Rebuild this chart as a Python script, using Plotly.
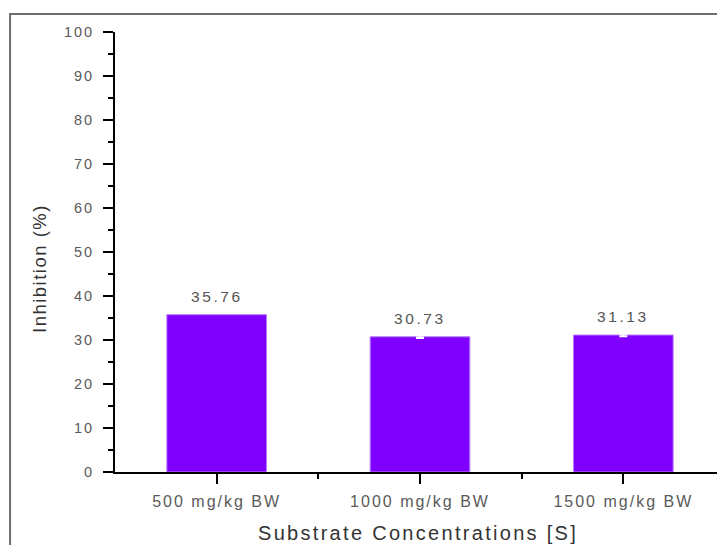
import plotly.graph_objects as go

categories = ["500 mg/kg BW", "1000 mg/kg BW", "1500 mg/kg BW"]
inhibition = [35.76, 30.73, 31.13]
errors = [None, 0.3, 0.3]
y_ticks = [0, 10, 20, 30, 40, 50, 60, 70, 80, 90, 100]

FONT = "Liberation Sans, Arial, sans-serif"
BAR = "#8000ff"


def spaced(s, ls):
    return f"<span style='letter-spacing:{ls}px'>{s}</span>"


xpos = list(range(len(categories)))

fig = go.Figure()
fig.add_trace(go.Bar(
    x=xpos, y=inhibition, width=0.49,
    marker=dict(color=BAR, line=dict(color="#b57bff", width=1)),
    showlegend=False, hoverinfo="skip",
))

# error bars only where an error value exists
ex = [xpos[i] for i in range(len(xpos)) if errors[i] is not None]
ey = [inhibition[i] for i in range(len(xpos)) if errors[i] is not None]
ee = [errors[i] for i in range(len(xpos)) if errors[i] is not None]
fig.add_trace(go.Scatter(
    x=ex, y=ey, mode="markers", marker=dict(size=1, opacity=0),
    error_y=dict(type="data", array=ee, visible=True, color="white",
                 thickness=2, width=4),
    showlegend=False, hoverinfo="skip",
))

for i, v in enumerate(inhibition):
    fig.add_annotation(x=xpos[i], y=v, xref="x", yref="y",
                       text=spaced(f"{v:.2f}", 2.6), showarrow=False,
                       yanchor="bottom", yshift=8,
                       font=dict(family=FONT, size=15.5, color="#555555"))

fig.add_annotation(x=-0.1246, y=0.4636, xref="paper", yref="paper",
                   text=spaced("Inhibition (%)", 1.5), showarrow=False,
                   textangle=-90, xanchor="center", yanchor="middle",
                   font=dict(family=FONT, size=18.5, color="#333333"))
fig.add_annotation(x=0.4975, y=-0.138, xref="paper", yref="paper",
                   text=spaced("Substrate Concentrations [S]", 2.3), showarrow=False,
                   xanchor="center", yanchor="middle",
                   font=dict(family=FONT, size=20, color="#333333"))

# outer frame
fig.add_shape(type="rect", xref="paper", yref="paper",
              x0=-0.172, x1=1.1, y0=-0.3, y1=1.041,
              line=dict(color="#6e6e6e", width=2), layer="above")

# page body has an 8px margin, so the figure is sized/offset to compensate
fig.update_layout(
    width=717, height=537,
    margin=dict(l=107, r=0, t=24, b=73),
    paper_bgcolor="white", plot_bgcolor="white",
    bargap=0.5,
)
fig.update_xaxes(
    range=[-0.5, 2.5], tickmode="array", tickvals=xpos,
    ticktext=[spaced(c, 2) for c in categories],
    showline=True, linecolor="black", linewidth=2,
    ticks="outside", ticklen=10, tickwidth=2, tickcolor="black",
    ticklabelstandoff=4,
    minor=dict(tickmode="array", tickvals=[0.5, 1.5], ticks="outside",
               ticklen=5, tickwidth=2, tickcolor="black"),
    showgrid=False, zeroline=False,
    tickfont=dict(family=FONT, size=16, color="#5a5a5a"),
)
fig.update_yaxes(
    range=[0, 100], tickmode="array", tickvals=y_ticks,
    ticktext=[spaced(str(t), 2) for t in y_ticks],
    showline=True, linecolor="black", linewidth=2,
    ticks="outside", ticklen=10, tickwidth=2, tickcolor="black",
    ticklabelstandoff=6,
    minor=dict(dtick=5, ticks="outside", ticklen=5, tickwidth=2,
               tickcolor="black"),
    showgrid=False, zeroline=False,
    tickfont=dict(family=FONT, size=14.5, color="#5a5a5a"),
)

fig.write_html("out.html")
